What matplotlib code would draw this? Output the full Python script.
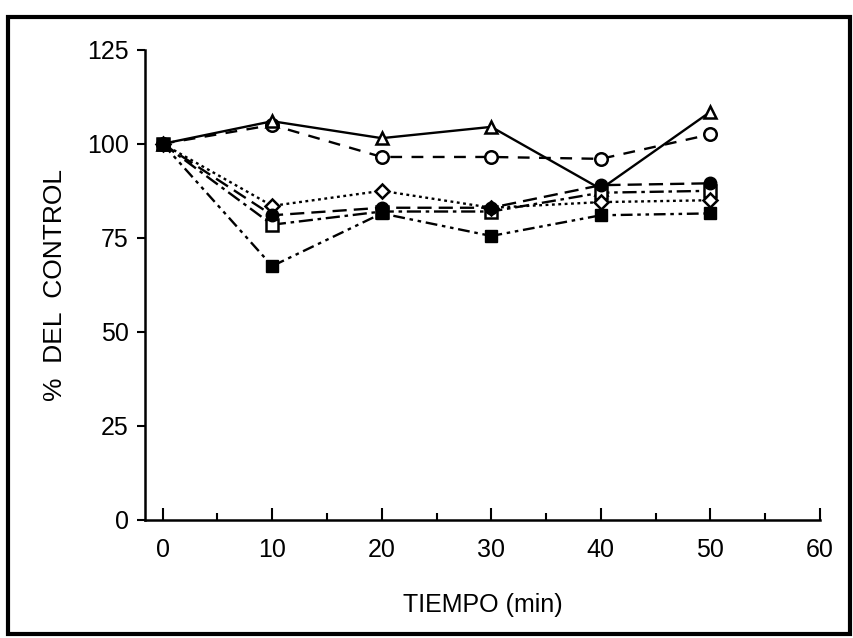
import matplotlib.pyplot as plt
from matplotlib.patches import Rectangle
from matplotlib.ticker import MultipleLocator

plt.rcParams['font.family'] = ['Liberation Sans', 'DejaVu Sans']

tiempo = [0, 10, 20, 30, 40, 50]
tri_open = [100, 106, 101.5, 104.5, 88, 108.5]
circ_open = [100, 105, 96.5, 96.5, 96, 102.5]
diam_open = [100, 83.5, 87.5, 83, 84.5, 85]
circ_fill = [100, 81, 83, 83, 89, 89.5]
sq_open = [100, 78.5, 82, 82, 87, 87.5]
sq_fill = [100, 67.5, 81.5, 75.5, 81, 81.5]

fig = plt.figure(figsize=(8.54, 6.38), dpi=100)
ax = fig.add_axes([0.170, 0.185, 0.790, 0.737])

lw = 1.7
ms = 9
ax.plot(tiempo, circ_open, c='k', lw=lw, ls=(0, (5, 4)), marker='o', ms=ms, mfc='w', mec='k', mew=1.8)
ax.plot(tiempo, tri_open, c='k', lw=lw, ls='-', marker='^', ms=ms, mfc='w', mec='k', mew=1.8)
ax.plot(tiempo, sq_open, c='k', lw=lw, ls=(0, (6, 2, 1.5, 2)), marker='s', ms=ms, mfc='w', mec='k', mew=1.8)
ax.plot(tiempo, diam_open, c='k', lw=lw, ls=(0, (1.2, 1.5)), marker='D', ms=ms - 2, mfc='w', mec='k', mew=1.8)
ax.plot(tiempo, circ_fill, c='k', lw=lw, ls=(0, (6, 3)), marker='o', ms=ms, mfc='k', mec='k')
ax.plot(tiempo, sq_fill, c='k', lw=lw, ls=(0, (5, 2, 1.5, 2, 1.5, 2)), marker='s', ms=ms, mfc='k', mec='k')

ax.set_xlim(-1.6, 60)
ax.set_ylim(0, 125)
ax.spines['top'].set_visible(False)
ax.spines['right'].set_visible(False)
ax.spines['left'].set_linewidth(1.8)
ax.spines['bottom'].set_linewidth(1.8)
ax.xaxis.set_major_locator(MultipleLocator(10))
ax.xaxis.set_minor_locator(MultipleLocator(5))
ax.yaxis.set_major_locator(MultipleLocator(25))
ax.tick_params(axis='x', which='major', direction='in', length=9, width=1.5, pad=13, labelsize=18)
ax.tick_params(axis='x', which='minor', direction='in', length=5, width=1.5)
ax.tick_params(axis='y', direction='out', length=6, width=1.5, pad=6, labelsize=18)

ax.set_xlabel('TIEMPO (min)', fontsize=18, labelpad=22)
ax.set_ylabel('%  DEL  CONTROL', fontsize=19, labelpad=14)

fig.patches.append(Rectangle((8 / 854, 4 / 638), 842 / 854, 617 / 638, transform=fig.transFigure,
                             fill=False, ec='k', lw=3))

fig.savefig('out.png', dpi=100)
